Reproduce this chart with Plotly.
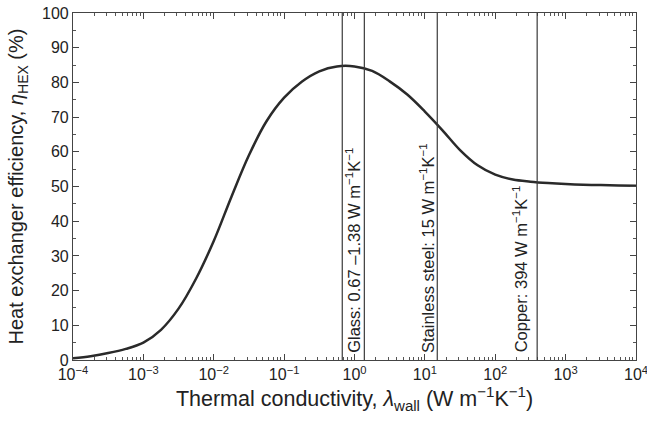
import plotly.graph_objects as go
import numpy as np

# Curve data (thermal conductivity in W m^-1 K^-1, efficiency in %)
conductivity = [1.0e-4, 1.78e-4, 3.16e-4, 5.62e-4, 1.0e-3, 1.78e-3, 3.16e-3, 5.62e-3,
                0.01, 0.0178, 0.0316, 0.0562, 0.1, 0.178, 0.316, 0.562,
                1.0, 1.78, 3.16, 5.62, 10, 17.8, 31.6, 56.2,
                100, 178, 316, 562, 1000, 1780, 3160, 5620, 10000]
efficiency = [0.5, 1.1, 2.0, 3.2, 5.0, 8.7, 14.8, 23.5,
              34.3, 47.0, 59.0, 68.8, 75.6, 80.2, 83.2, 84.6,
              84.6, 83.3, 80.3, 76.5, 71.6, 66.2, 60.5, 56.1,
              53.4, 52.0, 51.4, 51.0, 50.7, 50.5, 50.4, 50.3, 50.2]

# Material reference lines
line_values = [0.67, 1.38, 15, 394]
label_texts = ["Glass: 0.67 –1.38 W m<sup>−1</sup>K<sup>−1</sup>",
               "Stainless steel: 15 W m<sup>−1</sup>K<sup>−1</sup>",
               "Copper: 394 W m<sup>−1</sup>K<sup>−1</sup>"]
label_x = [0.97, 10.8, 225]

tick_vals = [1e-4, 1e-3, 1e-2, 1e-1, 1e0, 1e1, 1e2, 1e3, 1e4]
tick_text = ["10<sup>−4</sup>", "10<sup>−3</sup>", "10<sup>−2</sup>", "10<sup>−1</sup>",
             "10<sup>0</sup>", "10<sup>1</sup>", "10<sup>2</sup>", "10<sup>3</sup>", "10<sup>4</sup>"]
minor_vals = [m * d for d in tick_vals[:-1] for m in range(2, 10)]

ink = "#2a2a2a"
font = "Liberation Sans, Arial, sans-serif"

fig = go.Figure()
fig.add_trace(go.Scatter(x=conductivity, y=efficiency, mode="lines",
                         line=dict(color=ink, width=2.5, shape="spline", smoothing=1.0),
                         showlegend=False, hoverinfo="skip"))

for v in line_values:
    fig.add_shape(type="line", xref="x", yref="paper", x0=v, x1=v, y0=0, y1=1,
                  line=dict(color="#3a3a3a", width=1.2))

for t, xv in zip(label_texts, label_x):
    fig.add_annotation(x=np.log10(xv), y=1.5, xref="x", yref="y", text=t,
                       textangle=-90, showarrow=False, xanchor="center", yanchor="bottom",
                       font=dict(family=font, size=16.5, color="#222"))

fig.update_xaxes(type="log", range=[-4, 4], tickvals=tick_vals, ticktext=tick_text,
                 ticks="inside", ticklen=6, tickcolor="#444", mirror="ticks",
                 showline=True, linecolor="#444", linewidth=1.2, showgrid=False,
                 ticklabeloverflow="allow", automargin=False,
                 minor=dict(tickvals=minor_vals, ticks="inside", ticklen=3,
                            tickcolor="#555", showgrid=False),
                 tickfont=dict(family=font, size=16, color="#222"),
                 title=dict(text="Thermal conductivity, <i>λ</i><sub>wall</sub> (W m<sup>−1</sup>K<sup>−1</sup>)",
                            font=dict(family=font, size=21.5, color="#222"), standoff=4))
fig.update_yaxes(range=[0, 100], tickvals=list(range(0, 101, 10)),
                 ticks="inside", ticklen=6, tickcolor="#444", mirror="ticks",
                 showline=True, linecolor="#444", linewidth=1.2, showgrid=False, zeroline=False,
                 automargin=False,
                 minor=dict(dtick=5, ticks="inside", ticklen=3, tickcolor="#555", showgrid=False),
                 tickfont=dict(family=font, size=16, color="#222"),
                 title=dict(text="Heat exchanger efficiency, <i>η</i><sub>HEX</sub> (%)",
                            font=dict(family=font, size=20, color="#222"), standoff=12))

fig.update_layout(width=647, height=422, margin=dict(l=73, r=11, t=13, b=62),
                  paper_bgcolor="white", plot_bgcolor="white")

fig.write_html("out.html")
